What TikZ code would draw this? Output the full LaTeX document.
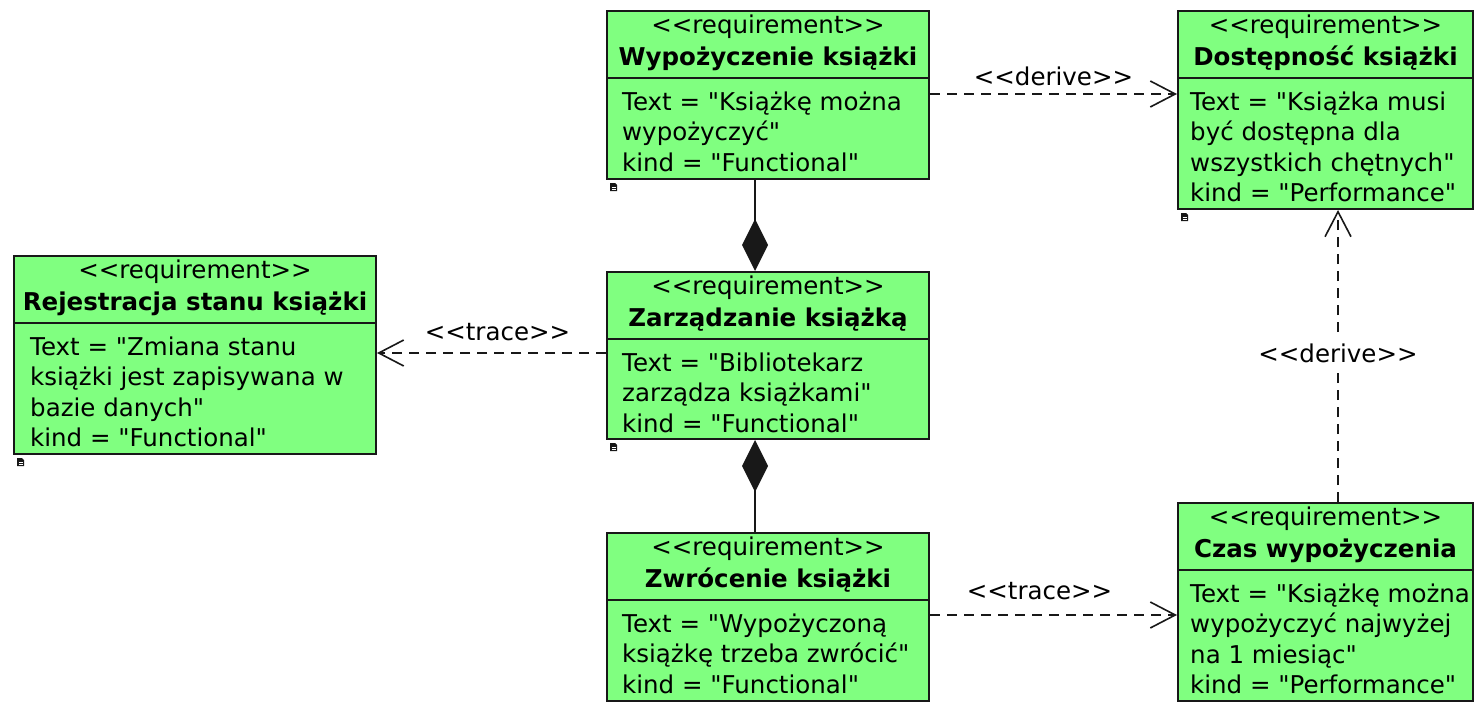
\documentclass[tikz,border=0pt]{standalone}
\usepackage{fontspec}
\setmainfont{DejaVu Sans}[Ligatures=TeXOff]
\usetikzlibrary{arrows.meta,calc}
\definecolor{reqfill}{RGB}{128,255,128}
\definecolor{ink}{RGB}{24,24,24}

% #1 name, #2 left, #3 top, #4 width, #5 height, #6 text inset,
% #7 title, #8 body lines (comma separated)
\newcommand\reqbox[8]{%
  \node[reqbox, minimum width=#4pt, minimum height=#5pt, anchor=north west] (#1) at (#2,#3) {};
  \draw[boxline] ($(#1.north west)+(0,68)$) -- ($(#1.north east)+(0,68)$);
  \node[txt, anchor=base] at ($(#1.north)+(0,23)$) {<<requirement>>};
  \node[txt, anchor=base, font=\fontsize{24.5}{30.5}\selectfont\bfseries] at ($(#1.north)+(0,55)$) {#7};
  \foreach \bodyline [count=\i] in {#8}{%
    \node[txt, anchor=base west] at ($(#1.north west)+(#6,{100+(\i-1)*30.5})$) {\bodyline};
  }
  % small document marker below the lower left corner
  \fill[ink] ($(#1.south west)+(4,3)$) -- ++(5,0) -- ++(2,2) -- ++(0,6) -- ++(-7,0) -- cycle;
  \draw[white, line width=0.7pt] ($(#1.south west)+(5.5,7)$) -- ++(4,0)
                                 ($(#1.south west)+(5.5,9.5)$) -- ++(4,0);
}

\begin{document}
\begin{tikzpicture}[x=1pt, y=-1pt,
  font=\fontsize{24.5}{30.5}\selectfont,
  reqbox/.style={draw=ink, fill=reqfill, line width=2pt, inner sep=0pt, rectangle},
  boxline/.style={draw=ink, line width=2pt},
  txt/.style={inner sep=0pt, text=black},
  dep/.style={draw=ink, line width=1.6pt, dash pattern=on 10pt off 7pt,
              -{Straight Barb[length=25pt, width=26pt]}},
  comp/.style={draw=ink, line width=2pt, -{Diamond[length=52pt, width=26pt]}},
  lab/.style={inner sep=2pt, text=black}]

\useasboundingbox (0,0) rectangle (1474,704);

\reqbox{wyp}{606}{10}{322}{168}{16}{Wypożyczenie książki}
  {Text = "Książkę można, wypożyczyć", kind = "Functional"}
\reqbox{dost}{1177}{10}{295}{198}{13}{Dostępność książki}
  {Text = "Książka musi, być dostępna dla, wszystkich chętnych", kind = "Performance"}
\reqbox{rej}{13}{255}{362}{198}{17}{Rejestracja stanu książki}
  {Text = "Zmiana stanu, książki jest zapisywana w, bazie danych", kind = "Functional"}
\reqbox{zar}{606}{271}{322}{167}{16}{Zarządzanie książką}
  {Text = "Bibliotekarz, zarządza książkami", kind = "Functional"}
\reqbox{zwr}{606}{532}{322}{168}{16}{Zwrócenie książki}
  {Text = "Wypożyczoną, książkę trzeba zwrócić", kind = "Functional"}
\reqbox{czas}{1177}{502}{295}{198}{13}{Czas wypożyczenia}
  {Text = "Książkę można, wypożyczyć najwyżej, na 1 miesiąc", kind = "Performance"}

% dependencies
\coordinate (ab) at ($(wyp.north east)+(0,84)$);
\draw[dep] (ab) -- (ab -| dost.west) node[lab, midway, yshift=18pt] {<<derive>>};

\coordinate (dc) at ($(zar.north west)+(0,82)$);
\draw[dep] (dc) -- (dc -| rej.east) node[lab, midway, yshift=21pt, xshift=6pt] {<<trace>>};

\coordinate (ef) at ($(zwr.north east)+(0,83)$);
\draw[dep] (ef) -- (ef -| czas.west) node[lab, midway, yshift=24pt, xshift=-14pt] {<<trace>>};

\coordinate (fb) at ($(czas.north west)+(161,0)$);
\draw[dep] (fb) -- (fb |- dost.south) node[lab, midway, fill=white, inner sep=5pt, yshift=3pt] {<<derive>>};

% compositions
\coordinate (ad) at ($(wyp.south west)+(149,0)$);
\draw[comp] (ad) -- (ad |- zar.north);
\coordinate (ed) at ($(zwr.north west)+(149,0)$);
\draw[comp] (ed) -- (ed |- zar.south);
\end{tikzpicture}
\end{document}
